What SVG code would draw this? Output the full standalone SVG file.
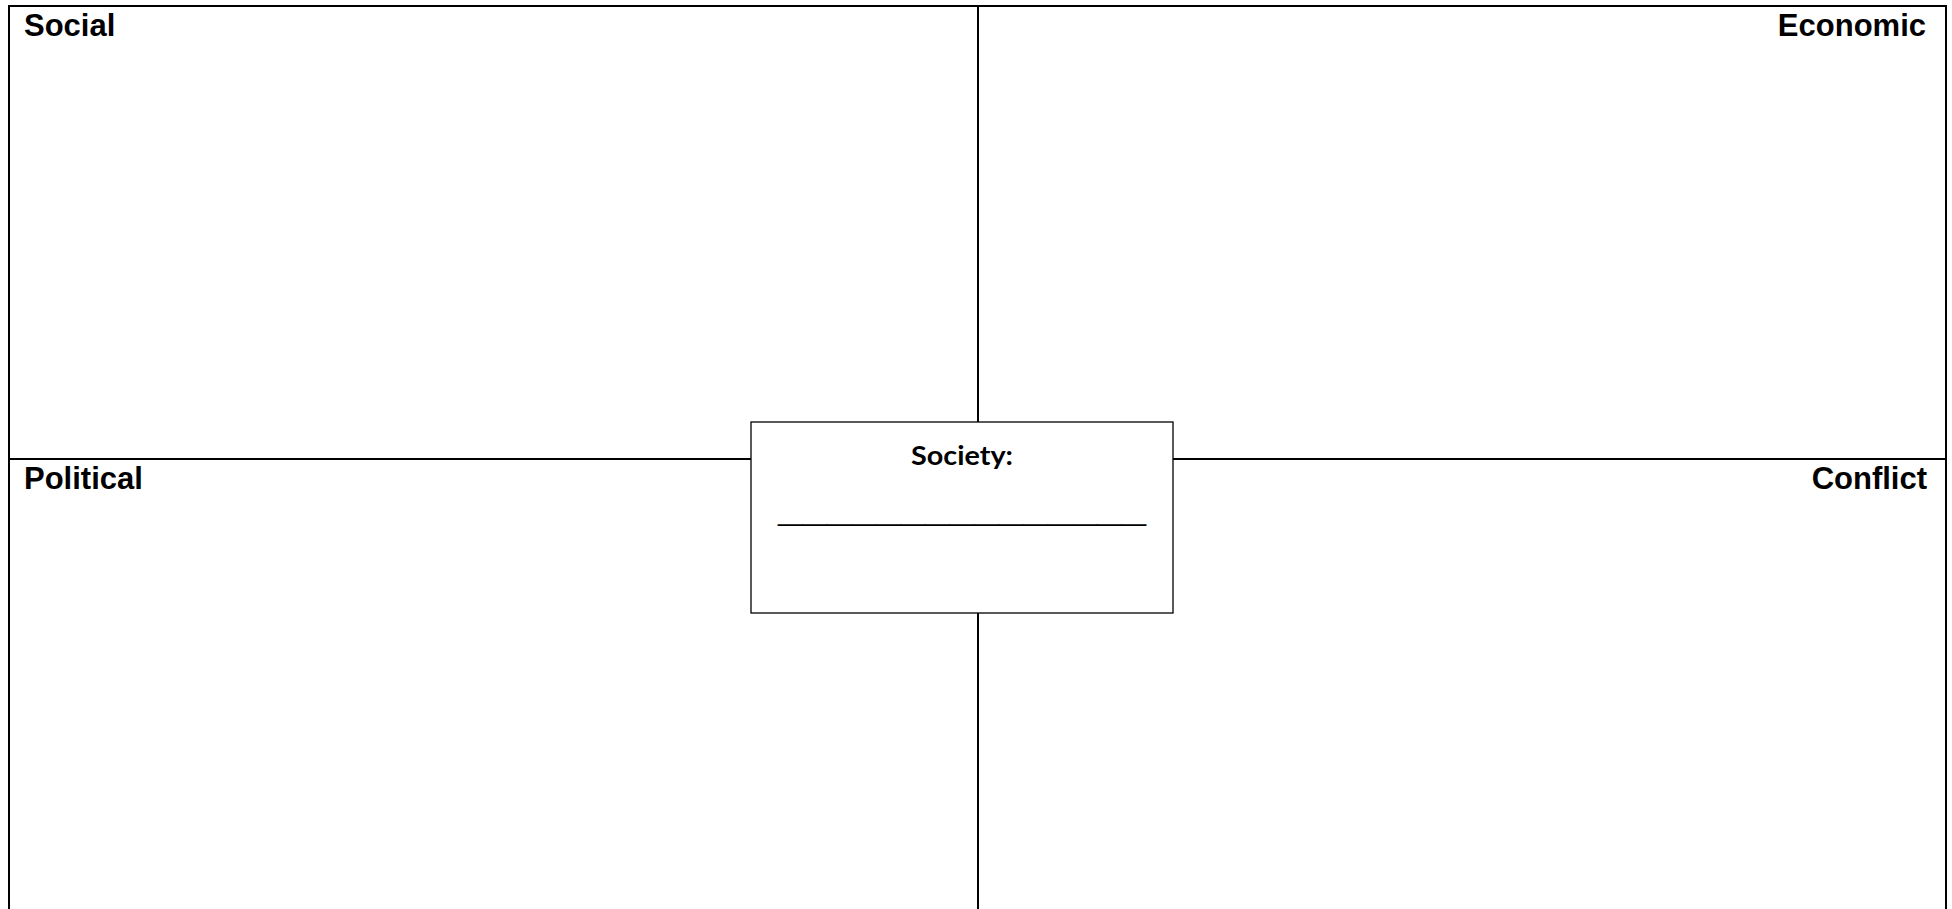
<svg xmlns="http://www.w3.org/2000/svg" width="1952" height="909" viewBox="0 0 1952 909">
<style>
.frame{fill:none;stroke:#000;stroke-width:2}
.lbl{font-family:"Liberation Sans",Arial,sans-serif;font-weight:bold;font-size:31px;fill:#000}
.box{fill:#fff;stroke:#000;stroke-width:1.3}
.soc{font-family:Lato,"Open Sans",sans-serif;font-weight:bold;font-size:26px;fill:#000}
.blank{font-family:"Liberation Sans",Arial,sans-serif;font-weight:bold;font-size:44px;fill:#000}
</style>
<rect width="1952" height="909" fill="#fff"/>
<g id="connectors">
<path class="frame" d="M9,915 V6 H1946 V915"/>
<line class="frame" x1="978" y1="6" x2="978" y2="915"/>
<line class="frame" x1="9" y1="459" x2="1946" y2="459"/>
</g>
<g id="social"><text class="lbl" x="24" y="36">Social</text></g>
<g id="economic"><text class="lbl" x="1926" y="36" text-anchor="end">Economic</text></g>
<g id="political"><text class="lbl" x="24" y="489">Political</text></g>
<g id="conflict"><text class="lbl" x="1927" y="489" text-anchor="end">Conflict</text></g>
<g id="society">
<rect class="box" x="751" y="422" width="422" height="191"/>
<text class="soc" x="911" y="465" textLength="102" lengthAdjust="spacingAndGlyphs">Society:</text>
<text class="blank" x="778" y="521" textLength="368" lengthAdjust="spacingAndGlyphs">_______________</text>
</g>
</svg>
